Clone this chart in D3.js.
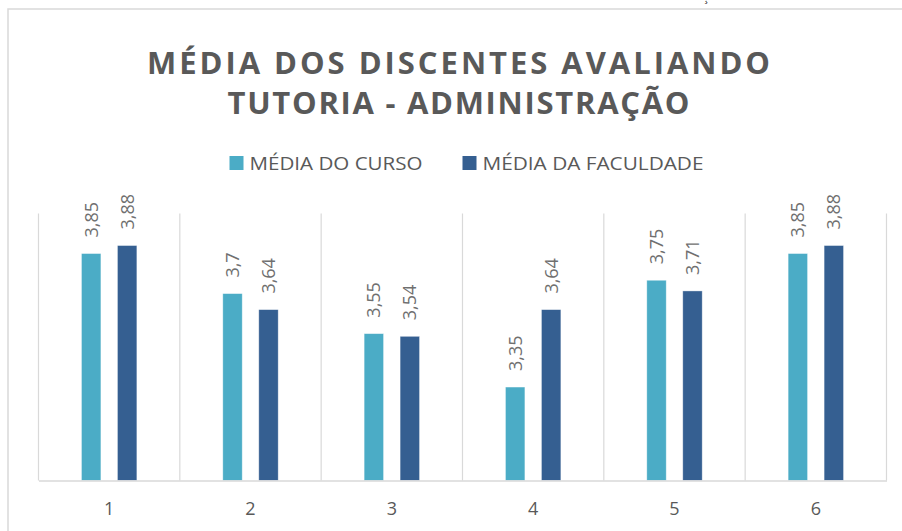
<!DOCTYPE html>
<html>
<head>
<meta charset="utf-8">
<style>
  html, body { margin: 0; padding: 0; background: #fff; }
  svg { display: block; font-family: "Open Sans", "Noto Sans", sans-serif; }
</style>
</head>
<body>
<div id="chart"></div>
<script src="https://cdn.jsdelivr.net/npm/d3@7"></script>
<script>
  // data
  const categories = ['1', '2', '3', '4', '5', '6'];
  const series = ['MÉDIA DO CURSO', 'MÉDIA DA FACULDADE'];
  const mediaCurso = [3.85, 3.7, 3.55, 3.35, 3.75, 3.85];
  const mediaFaculdade = [3.88, 3.64, 3.54, 3.64, 3.71, 3.88];
  const labelsCurso = ['3,85', '3,7', '3,55', '3,35', '3,75', '3,85'];
  const labelsFaculdade = ['3,88', '3,64', '3,54', '3,64', '3,71', '3,88'];
  const titleLines = ['MÉDIA DOS DISCENTES AVALIANDO', 'TUTORIA - ADMINISTRAÇÃO'];
  const colors = ['#4bacc6', '#355f91'];

  const width = 902, height = 531;
  const plot = { left: 38.5, right: 886.5, top: 213.5, bottom: 480.5 };

  const rows = [];
  categories.forEach((c, i) => {
    rows.push({ cat: c, s: series[0], v: mediaCurso[i], label: labelsCurso[i] });
    rows.push({ cat: c, s: series[1], v: mediaFaculdade[i], label: labelsFaculdade[i] });
  });

  const svg = d3.select('#chart').append('svg')
    .attr('width', width)
    .attr('height', height);

  // outer chart frame (only top and left edges visible)
  svg.append('path')
    .attr('d', `M8,${height + 2}V9H${width + 2}`)
    .attr('fill', 'none')
    .attr('stroke', '#d9d9d9')
    .attr('stroke-width', 1.5);

  // leftover cedilla from the page above
  svg.append('text')
    .attr('x', 706).attr('y', 1)
    .style('font-size', '12px')
    .attr('fill', '#222')
    .attr('text-anchor', 'middle')
    .text('¸');

  const x = d3.scaleBand()
    .domain(categories)
    .range([plot.left, plot.right]);

  const bw = x.bandwidth();
  const x1 = d3.scaleBand()
    .domain(series)
    .range([bw / 2 - 27.7, bw / 2 + 27.7])
    .paddingInner(0.46);

  const y = d3.scaleLinear()
    .domain([3, 4])
    .range([plot.bottom, plot.top]);

  const color = d3.scaleOrdinal().domain(series).range(colors);

  // vertical gridlines at category boundaries
  const bounds = categories.map(c => x(c)).concat([x(categories[categories.length - 1]) + bw]);
  svg.append('g').selectAll('line')
    .data(bounds)
    .enter().append('line')
    .attr('x1', d => d).attr('x2', d => d)
    .attr('y1', plot.top).attr('y2', plot.bottom)
    .attr('stroke', '#d9d9d9')
    .attr('stroke-width', 1.2);

  // bars
  svg.append('g').selectAll('rect')
    .data(rows)
    .enter().append('rect')
    .attr('x', d => x(d.cat) + x1(d.s))
    .attr('y', d => y(d.v))
    .attr('width', x1.bandwidth())
    .attr('height', d => y(3) - y(d.v))
    .attr('fill', d => color(d.s))
    .attr('stroke', '#fff')
    .attr('stroke-opacity', 0.5)
    .attr('stroke-width', 0.75);

  // value labels, rotated
  svg.append('g').selectAll('text')
    .data(rows)
    .enter().append('text')
    .attr('transform', d => `translate(${x(d.cat) + x1(d.s) + x1.bandwidth() / 2},${y(d.v) - 16}) rotate(-90)`)
    .attr('dy', '0.36em')
    .attr('fill', '#6f6f6f')
    .style('font-size', '18px')
    .text(d => d.label);

  // category axis
  const xAxis = svg.append('g')
    .attr('transform', `translate(0,${plot.bottom})`)
    .call(d3.axisBottom(x).tickSize(0));
  xAxis.select('.domain')
    .attr('stroke', '#d9d9d9')
    .attr('stroke-width', 1.5);
  xAxis.selectAll('text')
    .attr('y', 34.5)
    .attr('dy', null)
    .attr('fill', '#595959')
    .style('font-size', '18px')
    .style('font-family', '"Open Sans", sans-serif');

  // title
  const titleLen = [623, 462];
  svg.append('g').selectAll('text')
    .data(titleLines)
    .enter().append('text')
    .attr('x', 458.5)
    .attr('y', (d, i) => 74 + i * 40)
    .attr('text-anchor', 'middle')
    .attr('textLength', (d, i) => titleLen[i])
    .attr('lengthAdjust', 'spacing')
    .attr('fill', '#595959')
    .style('font-size', '31px')
    .style('font-weight', 'bold')
    .text(d => d);

  // legend
  const legendX = [229.5, 462.5];
  const legendLen = [173, 221];
  const legend = svg.append('g').selectAll('g')
    .data(series)
    .enter().append('g')
    .attr('transform', (d, i) => `translate(${legendX[i]},156)`);
  legend.append('rect')
    .attr('width', 14).attr('height', 14)
    .attr('fill', d => color(d));
  legend.append('text')
    .attr('x', 20).attr('y', 13.5)
    .attr('textLength', (d, i) => legendLen[i])
    .attr('lengthAdjust', 'spacingAndGlyphs')
    .attr('fill', '#595959')
    .style('font-size', '18px')
    .text(d => d);
</script>
</body>
</html>
